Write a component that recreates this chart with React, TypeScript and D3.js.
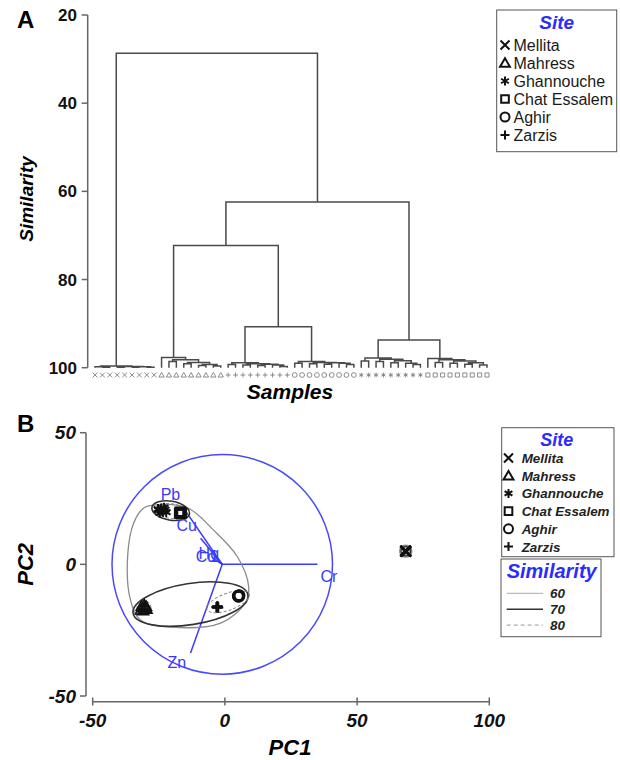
import React from "react";
import * as d3 from "d3";

type Tree = string | [number, Tree, Tree];

const FONT = "Arial, 'Liberation Sans', Helvetica, sans-serif";

// sites, in legend order, with their marker codes
const siteNames = ["Mellita", "Mahress", "Ghannouche", "Chat Essalem", "Aghir", "Zarzis"];
const siteCodes = ["Me", "Ma", "Gh", "CE", "Ag", "Za"];

// within-site clusters: [similarity, left, right], leaves are site codes
const mellitaTree: Tree = [99.6, [99.8, "Me", [99.9, "Me", "Me"]], [99.7, [99.9, "Me", "Me"], [99.8, [99.9, "Me", "Me"], [99.9, "Me", "Me"]]]];
const mahressTree: Tree = [97.7, "Ma", [98.2, [98.6, "Ma", "Ma"], [98.8, [99.1, "Ma", "Ma"], [99.3, [99.5, "Ma", "Ma"], [99.6, "Ma", "Ma"]]]]];
const zarzisTree: Tree = [98.9, [99.3, "Za", "Za"], [99.1, [99.4, "Za", "Za"], [99.2, [99.5, "Za", "Za"], [99.4, "Za", [99.7, "Za", "Za"]]]]];
const aghirTree: Tree = [98.6, [99.0, "Ag", "Ag"], [98.8, [99.1, "Ag", "Ag"], [98.9, [99.2, "Ag", "Ag"], [99.0, "Ag", [99.3, "Ag", "Ag"]]]]];
const ghannoucheTree: Tree = [97.8, [98.5, "Gh", "Gh"], [98.1, [98.6, "Gh", "Gh"], [98.4, [98.9, "Gh", "Gh"], [99.0, "Gh", [99.3, "Gh", "Gh"]]]]];
const chatTree: Tree = [97.9, "CE", [98.2, [98.8, "CE", "CE"], [98.5, [99.0, "CE", "CE"], [98.9, [99.2, "CE", "CE"], [99.4, "CE", "CE"]]]]];

// between-site joins
const dendrogram: Tree = [28.7, mellitaTree, [62.4, [72.3, mahressTree, [90.7, zarzisTree, aghirTree]], [93.7, ghannoucheTree, chatTree]]];

const simTicks = [20, 40, 60, 80, 100];

// PCA scores (PC1, PC2) per site
const mellitaPts = [[68.2, 5.1], [68.4, 4.9], [68.5, 5.0], [68.3, 5.2], [68.6, 4.8], [68.4, 5.1], [68.2, 4.9], [68.5, 5.2], [68.3, 5.0]];
const mahressPts = [[-31.5, -15.8], [-30.2, -16.9], [-30.9, -17.5], [-29.8, -15.9], [-31.2, -16.4], [-30.5, -15.3], [-29.6, -17.0], [-31.8, -17.2], [-30.4, -16.2]];
const ghannouchePts = [[-25.0, 20.5], [-24.1, 21.2], [-23.4, 20.0], [-22.6, 20.8], [-24.6, 19.6], [-23.0, 21.5], [-25.3, 21.0], [-22.2, 19.8], [-23.8, 20.4]];
const chatPts = [[-17.0, 19.6], [-16.6, 19.9], [-17.3, 19.3], [-16.8, 19.2], [-16.4, 19.5], [-17.1, 20.0], [-16.9, 19.7], [-16.5, 19.1], [-17.2, 19.5]];
const aghirPts = [[5.2, -11.8], [5.4, -12.1], [5.0, -12.2], [5.3, -11.9], [5.1, -12.0], [5.5, -11.7], [4.9, -11.9], [5.2, -12.3], [5.3, -12.0]];
const zarzisPts = [[-3.0, -16.0], [-2.7, -16.3], [-2.9, -16.5], [-2.6, -16.1], [-3.1, -16.2], [-2.8, -15.9], [-2.5, -16.4], [-3.2, -16.3], [-2.8, -16.1]];
const sitePoints = [mellitaPts, mahressPts, ghannouchePts, chatPts, aghirPts, zarzisPts];

// variable vectors
const variables = ["Cr", "Zn", "Pb", "Cu", "Hg", "Cd"];
const loadX = [35, -13, -15.6, -9.2, -3.9, -4.6];
const loadY = [0, -33.7, 21.3, 9.9, 3.2, 2.4];
const vectorOrigin = [-1, 0];
const circleRadius = 41.7;

// similarity contours (PC units)
const contour60 = [[-27.0, 22.5], [-14.1, 21.4], [-4.3, 13.0], [4.8, 2.8], [9.0, -8.6], [7.8, -14.5], [-1.6, -22.3], [-20.5, -23.8], [-31.9, -21.1], [-35.7, -13.6], [-36.8, 2.8], [-34.5, 15.7], [-30.7, 21.4]];
const outlier60 = [[68.4, 5.0, 2.3, 2.3, 0]];
// [cx, cy, rx, ry, angle]
const ellipses70 = [[-13, -15.1, 22, 7.8, 9], [-20.5, 20.4, 7.2, 3.6, -10], [68.4, 5.0, 1.8, 1.8, 0]];
const ellipses80 = [[1.2, -14.2, 8.5, 3.2, 20], [-20.3, 20.2, 6, 2.8, -8], [-30.6, -16.4, 2.6, 2.6, 0], [68.4, 5.0, 1.4, 1.4, 0]];
const simLevels = ["60", "70", "80"];

const pcTicksX = [-50, 0, 50, 100];
const pcTicksY = [-50, 0, 50];

function symbolPath(code: string, s: number) {
  const a = s * 0.87;
  switch (code) {
    case "Me": return `M${-s},${-s}L${s},${s}M${-s},${s}L${s},${-s}`;
    case "Ma": return `M0,${-s * 1.05}L${s * 1.1},${s * 0.85}L${-s * 1.1},${s * 0.85}Z`;
    case "Gh": return `M0,${-s}V${s}M${-a},${-s / 2}L${a},${s / 2}M${-a},${s / 2}L${a},${-s / 2}`;
    case "CE": return `M${-s * 0.85},${-s * 0.85}H${s * 0.85}V${s * 0.85}H${-s * 0.85}Z`;
    case "Ag": return `M${s},0A${s},${s} 0 1 1 ${-s},0A${s},${s} 0 1 1 ${s},0`;
    default: return `M0,${-s}V${s}M${-s},0H${s}`;
  }
}

const labelOffsets: Record<string, [number, number]> = {
  Cr: [3, 18], Zn: [-23, 15], Pb: [-23, -8], Cu: [-24, -7], Hg: [-16, 3], Cd: [-17, 4],
};

export default function App() {
  // ---------- panel A: dendrogram ----------
  const yA = d3.scaleLinear().domain([20, 100]).range([15, 367.7]);
  const root = d3.hierarchy<Tree>(dendrogram, d => (typeof d === "string" ? null : [d[1], d[2]]));
  const leaves = root.leaves();
  const xLeaf = d3.scalePoint<number>().domain(d3.range(leaves.length)).range([95, 487]);
  const px = new Map<any, number>();
  leaves.forEach((l, i) => px.set(l, xLeaf(i) as number));
  root.eachAfter(n => {
    if (n.children) px.set(n, d3.mean(n.children, c => px.get(c)) as number);
  });
  const sim = (n: d3.HierarchyNode<Tree>) => (typeof n.data === "string" ? 100 : n.data[0]);
  const links: string[] = [];
  root.each(n => {
    if (!n.children) return;
    const [c0, c1] = n.children;
    links.push(`M${px.get(c0)},${yA(sim(c0))}V${yA(sim(n))}H${px.get(c1)}V${yA(sim(c1))}`);
  });

  // ---------- panel B: PCA ----------
  const xB = d3.scaleLinear().domain([-50, 100]).range([92.7, 489.3]);
  const yB = d3.scaleLinear().domain([-50, 50]).range([696, 432.7]);
  const kx = xB(1) - xB(0);
  const ky = yB(0) - yB(1);
  const contourLine = d3.line<number[]>().x(d => xB(d[0])).y(d => yB(d[1])).curve(d3.curveCatmullRomClosed.alpha(0.5));
  const ell = (e: number[], key: string, props: any) => (
    <ellipse key={key} cx={xB(e[0])} cy={yB(e[1])} rx={e[2] * kx} ry={e[3] * ky}
      transform={`rotate(${-e[4]},${xB(e[0])},${yB(e[1])})`} fill="none" {...props} />
  );

  const blue = "#2b2bff";
  const axisCol = "#666";

  return (
    <svg width={620} height={760} style={{ position: "absolute", left: 0, top: 0, background: "#fff" }} fontFamily={FONT}>
      {/* ===== Panel A ===== */}
      <text x={17} y={28} fontSize={24} fontWeight="bold">A</text>
      <line x1={87.7} x2={87.7} y1={yA(20)} y2={yA(100)} stroke={axisCol} strokeWidth={1.5} />
      {simTicks.map(t => (
        <g key={t}>
          <line x1={81.7} x2={87.7} y1={yA(t)} y2={yA(t)} stroke={axisCol} strokeWidth={1.5} />
          <text x={77} y={yA(t) + 6} fontSize={17} fontWeight="bold" textAnchor="end" fill="#111">{t}</text>
        </g>
      ))}
      <text transform="translate(33,199) rotate(-90)" fontSize={19} fontWeight="bold" fontStyle="italic" textAnchor="middle">Similarity</text>
      <path d={links.join("")} fill="none" stroke="#4a4a4a" strokeWidth={1.5} />
      {leaves.map((l, i) => (
        <path key={i} d={symbolPath(l.data as string, 2.4)} transform={`translate(${px.get(l)},375)`}
          fill="none" stroke="#808080" strokeWidth={0.9} />
      ))}
      <text x={290} y={399} fontSize={21} fontWeight="bold" fontStyle="italic" textAnchor="middle">Samples</text>

      {/* legend A */}
      <rect x={496.7} y={10} width={120} height={141.7} fill="#fff" stroke="#555" strokeWidth={1} />
      <text x={556.7} y={29} fontSize={19} fontWeight="bold" fontStyle="italic" fill={blue} textAnchor="middle">Site</text>
      {siteNames.map((s, i) => (
        <g key={s} transform={`translate(0,${45 + i * 18})`}>
          <path d={symbolPath(siteCodes[i], 4.5)} transform="translate(505,0)" fill="none" stroke="#111" strokeWidth={2} />
          <text x={513.5} y={5.5} fontSize={16} fill="#1a1a1a">{s}</text>
        </g>
      ))}

      {/* ===== Panel B ===== */}
      <text x={17} y={432} fontSize={24} fontWeight="bold">B</text>
      <line x1={86} x2={86} y1={yB(50)} y2={yB(-50)} stroke={axisCol} strokeWidth={1.5} />
      {pcTicksY.map(t => (
        <g key={t}>
          <line x1={80} x2={86} y1={yB(t)} y2={yB(t)} stroke={axisCol} strokeWidth={1.5} />
          <text x={76} y={yB(t) + 6.5} fontSize={19} fontWeight="bold" fontStyle="italic" textAnchor="end" fill="#111">{t}</text>
        </g>
      ))}
      <line x1={xB(-50)} x2={xB(100)} y1={701.7} y2={701.7} stroke={axisCol} strokeWidth={1.5} />
      {pcTicksX.map(t => (
        <g key={t}>
          <line x1={xB(t)} x2={xB(t)} y1={697.5} y2={705.5} stroke={axisCol} strokeWidth={1.5} />
          <text x={xB(t)} y={727} fontSize={19} fontWeight="bold" fontStyle="italic" textAnchor="middle" fill="#111">{t}</text>
        </g>
      ))}
      <text x={290} y={755} fontSize={22} fontWeight="bold" fontStyle="italic" textAnchor="middle">PC1</text>
      <text transform={`translate(33,${yB(0)}) rotate(-90)`} fontSize={22} fontWeight="bold" fontStyle="italic" textAnchor="middle">PC2</text>

      {/* correlation circle and vectors */}
      <ellipse cx={xB(vectorOrigin[0])} cy={yB(vectorOrigin[1])} rx={circleRadius * kx} ry={circleRadius * ky}
        fill="none" stroke="#4848ff" strokeWidth={1.5} />
      {variables.map((v, i) => (
        <line key={v} x1={xB(vectorOrigin[0])} y1={yB(vectorOrigin[1])} x2={xB(loadX[i])} y2={yB(loadY[i])}
          stroke="#3a3aff" strokeWidth={1.5} />
      ))}

      {/* similarity contours */}
      <path d={contourLine(contour60) as string} fill="none" stroke="#8a8a8a" strokeWidth={1.3} />
      {outlier60.map((e, i) => ell(e, "o60" + i, { stroke: "#8a8a8a", strokeWidth: 1.2 }))}
      {ellipses70.map((e, i) => ell(e, "e70" + i, { stroke: "#333", strokeWidth: 1.6 }))}
      {ellipses80.map((e, i) => ell(e, "e80" + i, { stroke: "#888", strokeWidth: 1, strokeDasharray: "3,2" }))}

      {/* sample scores */}
      {sitePoints.map((pts, si) => pts.map((p, j) => (
        <path key={si + "-" + j} d={symbolPath(siteCodes[si], 5)} transform={`translate(${xB(p[0])},${yB(p[1])})`}
          fill="none" stroke="#111" strokeWidth={siteCodes[si] === "Ma" ? 1.5 : 2} />
      )))}

      {/* vector labels */}
      {variables.map((v, i) => (
        <text key={v} x={xB(loadX[i]) + labelOffsets[v][0]} y={yB(loadY[i]) + labelOffsets[v][1]}
          fontSize={16} fill="#3a3aff">{v}</text>
      ))}

      {/* legend B: site */}
      <rect x={501.7} y={427.7} width={112.3} height={129} fill="#fff" stroke="#555" strokeWidth={1} />
      <text x={556.7} y={446} fontSize={18} fontWeight="bold" fontStyle="italic" fill={blue} textAnchor="middle">Site</text>
      {siteNames.map((s, i) => (
        <g key={s} transform={`translate(0,${458 + i * 17.7})`}>
          <path d={symbolPath(siteCodes[i], 4.5)} transform="translate(508.5,0)" fill="none" stroke="#111" strokeWidth={2} />
          <text x={521.7} y={5} fontSize={13.4} fontWeight="bold" fontStyle="italic" fill="#222">{s}</text>
        </g>
      ))}

      {/* legend B: similarity */}
      <rect x={501} y={559} width={100} height={77.7} fill="#fff" stroke="#555" strokeWidth={1} />
      <text x={551.7} y={578} fontSize={20} fontWeight="bold" fontStyle="italic" fill={blue} textAnchor="middle">Similarity</text>
      {simLevels.map((s, i) => (
        <g key={s} transform={`translate(0,${593.3 + i * 15.9})`}>
          <line x1={506.7} x2={543} y1={0} y2={0}
            stroke={i === 0 ? "#aaa" : i === 1 ? "#333" : "#999"}
            strokeWidth={i === 1 ? 1.6 : 1} strokeDasharray={i === 2 ? "4,3" : undefined} />
          <text x={550} y={5} fontSize={13.4} fontWeight="bold" fontStyle="italic" fill="#222">{s}</text>
        </g>
      ))}
    </svg>
  );
}
